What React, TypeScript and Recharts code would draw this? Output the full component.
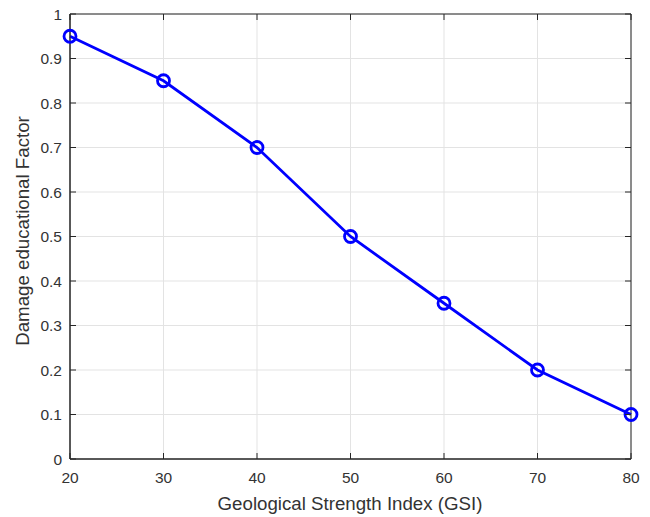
import React from "react";
import {
  LineChart,
  Line,
  XAxis,
  YAxis,
  CartesianGrid,
  ReferenceArea,
} from "recharts";

const gsi = [20, 30, 40, 50, 60, 70, 80];
const damage = [0.95, 0.85, 0.7, 0.5, 0.35, 0.2, 0.1];
const xTicks = [20, 30, 40, 50, 60, 70, 80];
const yTicks = [0, 0.1, 0.2, 0.3, 0.4, 0.5, 0.6, 0.7, 0.8, 0.9, 1];

const data = gsi.map((g, i) => ({ gsi: g, damage: damage[i] }));

// plot box edges (px), used for MATLAB-style inward ticks on all four sides
const LEFT = 70;
const RIGHT = 631;
const TOP = 14;
const BOTTOM = 459;
const TICK = 6;
const AXIS = "#262626";
const TEXT = "#333333";
const FONT = "'Liberation Sans', Arial, sans-serif";

function YTick(props: any) {
  const { y, payload } = props;
  return (
    <g>
      <line x1={LEFT} x2={LEFT + TICK} y1={y} y2={y} stroke={AXIS} />
      <line x1={RIGHT - TICK} x2={RIGHT} y1={y} y2={y} stroke={AXIS} />
      <text
        x={LEFT - 8}
        y={y}
        dy={5.5}
        textAnchor="end"
        fontSize={15.5}
        fontFamily={FONT}
        fill={TEXT}
      >
        {payload.value}
      </text>
    </g>
  );
}

function XTick(props: any) {
  const { x, payload } = props;
  return (
    <g>
      <line x1={x} x2={x} y1={BOTTOM - TICK} y2={BOTTOM} stroke={AXIS} />
      <line x1={x} x2={x} y1={TOP} y2={TOP + TICK} stroke={AXIS} />
      <text
        x={x}
        y={483}
        textAnchor="middle"
        fontSize={15.5}
        fontFamily={FONT}
        fill={TEXT}
      >
        {payload.value}
      </text>
    </g>
  );
}

export default function App() {
  return (
    <div style={{ position: "absolute", left: 0, top: 0, background: "#fff" }}>
      <LineChart
        width={650}
        height={517}
        data={data}
        margin={{ top: TOP, right: 650 - RIGHT, left: LEFT - 40, bottom: 517 - BOTTOM - 30 }}
      >
        <CartesianGrid stroke="#e3e3e3" strokeWidth={1} />
        <XAxis
          dataKey="gsi"
          type="number"
          domain={[20, 80]}
          ticks={xTicks}
          height={30}
          axisLine={{ stroke: AXIS }}
          tickLine={false}
          tick={<XTick />}
          interval={0}
          label={{
            content: () => (
              <text
                x={350}
                y={510}
                textAnchor="middle"
                fontSize={18.7}
                fontFamily={FONT}
                fill={TEXT}
              >
                Geological Strength Index (GSI)
              </text>
            ),
          }}
        />
        <YAxis
          type="number"
          domain={[0, 1]}
          ticks={yTicks}
          width={40}
          axisLine={{ stroke: AXIS }}
          tickLine={false}
          tick={<YTick />}
          interval={0}
          label={{
            content: () => (
              <text
                x={29}
                y={231}
                transform="rotate(-90, 29, 231)"
                textAnchor="middle"
                fontSize={18.7}
                fontFamily={FONT}
                fill={TEXT}
              >
                Damage educational Factor
              </text>
            ),
          }}
        />
        <ReferenceArea
          x1={20}
          x2={80}
          y1={0}
          y2={1}
          fill="none"
          stroke={AXIS}
          strokeWidth={1}
          fillOpacity={0}
        />
        <Line
          dataKey="damage"
          stroke="#0000ff"
          strokeWidth={2.8}
          isAnimationActive={false}
          dot={{ r: 6, stroke: "#0000ff", strokeWidth: 2.8, fill: "none" }}
          activeDot={false}
        />
      </LineChart>
    </div>
  );
}
